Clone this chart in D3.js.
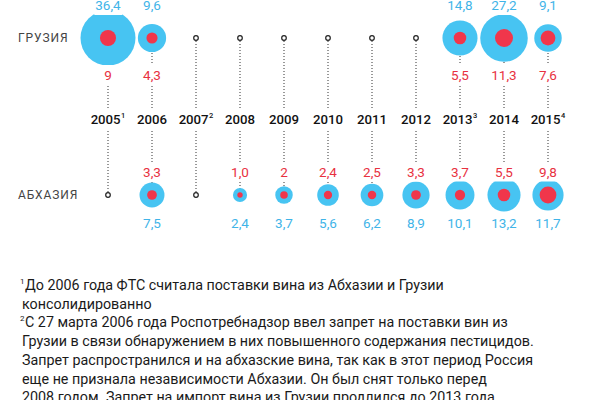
<!DOCTYPE html>
<html><head><meta charset="utf-8">
<script src="https://cdn.jsdelivr.net/npm/d3@7/dist/d3.min.js"></script>
<style>body{margin:0;background:#fff}svg{display:block}</style>
</head><body>
<svg id="c" width="600" height="400"></svg>
<script>
const years = ["2005","2006","2007","2008","2009","2010","2011","2012","2013","2014","2015"];
const yearSup = ["1","","2","","","","","","3","","4"];
const rows = ["ГРУЗИЯ","АБХАЗИЯ"];
const geoBlue = [36.4, 9.6, null, null, null, null, null, null, 14.8, 27.2, 9.1];
const geoRed  = [9, 4.3, null, null, null, null, null, null, 5.5, 11.3, 7.6];
const geoBlueLbl = ["36,4","9,6","","","","","","","14,8","27,2","9,1"];
const geoRedLbl  = ["9","4,3","","","","","","","5,5","11,3","7,6"];
const abkBlue = [null, 7.5, null, 2.4, 3.7, 5.6, 6.2, 8.9, 10.1, 13.2, 11.7];
const abkRed  = [null, 3.3, null, 1.0, 2, 2.4, 2.5, 3.3, 3.7, 5.5, 9.8];
const abkBlueLbl = ["","7,5","","2,4","3,7","5,6","6,2","8,9","10,1","13,2","11,7"];
const abkRedLbl  = ["","3,3","","1,0","2","2,4","2,5","3,3","3,7","5,5","9,8"];
const footnotes = [
  ["1","До 2006 года ФТС считала поставки вина из Абхазии и Грузии"],
  ["","консолидированно"],
  ["2","С 27 марта 2006 года Роспотребнадзор ввел запрет на поставки вин из"],
  ["","Грузии в связи обнаружением в них повышенного содержания пестицидов."],
  ["","Запрет распространился и на абхазские вина, так как в этот период Россия"],
  ["","еще не признала независимости Абхазии. Он был снят только перед"],
  ["","2008 годом. Запрет на импорт вина из Грузии продлился до 2013 года"]
];
</script>
<script>
const BLUE="#47c4f2", RED="#f0364b", BLUE_T="#3fb4e8", RED_T="#e8313f";
const FONT="Roboto, 'Noto Sans', sans-serif";
const svg=d3.select("#c");
const x=d3.scalePoint().domain(years).range([108,548]);
const rowY=d3.scalePoint().domain(rows).range([38,195]);
const rBlue=d3.scaleSqrt().domain([0,36.4]).range([0,27.5]);
const rRed=d3.scaleSqrt().domain([0,11.3]).range([0,9]);
const gY=rowY(rows[0]), aY=rowY(rows[1]);

const gLines=svg.append("g"), gCirc=svg.append("g"), gBg=svg.append("g"), gTxt=svg.append("g");

gLines.selectAll("line").data(years).join("line")
  .attr("x1",d=>x(d)).attr("x2",d=>x(d)).attr("y1",gY).attr("y2",aY)
  .attr("stroke","#333").attr("stroke-width",1).attr("stroke-dasharray","1,2");

function drawRow(y, blue, red){
  const d=years.map((yr,i)=>({yr,b:blue[i],r:red[i]}));
  gCirc.selectAll(null).data(d.filter(e=>e.b!=null)).join("circle")
    .attr("cx",e=>x(e.yr)).attr("cy",y).attr("r",e=>rBlue(e.b)).attr("fill",BLUE);
  gCirc.selectAll(null).data(d.filter(e=>e.r!=null)).join("circle")
    .attr("cx",e=>x(e.yr)).attr("cy",y).attr("r",e=>rRed(e.r)).attr("fill",RED);
  gCirc.selectAll(null).data(d.filter(e=>e.b==null)).join("circle")
    .attr("cx",e=>x(e.yr)).attr("cy",y).attr("r",2.3).attr("fill","#fff")
    .attr("stroke","#222").attr("stroke-width",1.2);
}
drawRow(gY, geoBlue, geoRed);
drawRow(aY, abkBlue, abkRed);

function label(xp, yp, str, color, size, pad){
  const t=gTxt.append("text").attr("x",xp).attr("y",yp).attr("text-anchor","middle")
    .attr("font-family",FONT).attr("font-size",size).attr("fill",color).text(str);
  const bb=t.node().getBBox();
  gBg.append("rect").attr("x",bb.x-1).attr("y",bb.y-pad).attr("width",bb.width+2)
    .attr("height",bb.height+2*pad).attr("fill","#fff");
}
years.forEach((yr,i)=>{
  if(geoBlueLbl[i]) label(x(yr), 10, geoBlueLbl[i], BLUE_T, 13.5, 2);
  if(geoRedLbl[i]) label(x(yr), 80, geoRedLbl[i], RED_T, 13.5, 2);
  if(abkRedLbl[i]) label(x(yr), 177, abkRedLbl[i], RED_T, 13.5, 1.5);
  if(abkBlueLbl[i]) label(x(yr), 228, abkBlueLbl[i], BLUE_T, 13.5, 2);
  const t=gTxt.append("text").attr("x",x(yr)).attr("y",124).attr("text-anchor","middle")
    .attr("font-family",FONT).attr("font-size",13.2).attr("font-weight",500).attr("fill","#111");
  t.append("tspan").text(yr);
  if(yearSup[i]) t.append("tspan").attr("font-size",7.5).attr("dy",-6).attr("dx",0.5).text(yearSup[i]);
  const bb=t.node().getBBox();
  gBg.append("rect").attr("x",bb.x-1).attr("y",bb.y-2).attr("width",bb.width+2)
    .attr("height",bb.height+5).attr("fill","#fff");
});

rows.forEach(r=>{
  gTxt.append("text").attr("x",18).attr("y",rowY(r)).attr("dy","0.36em")
    .attr("font-family",FONT).attr("font-size",12).attr("letter-spacing",0.9)
    .attr("fill","#444").text(r);
});

const fg=svg.append("g");
footnotes.forEach((f,i)=>{
  const t=fg.append("text").attr("x",f[0]?20:22).attr("y",290+i*18.7)
    .attr("font-family",FONT).attr("font-size",14.3).attr("fill","#1a1a1a");
  if(f[0]) t.append("tspan").attr("font-size",8).attr("dy",-6).text(f[0]);
  t.append("tspan").attr("dy",f[0]?6:0).attr("dx",f[0]?0.5:0).text(f[1]);
});
</script>
</body></html>
